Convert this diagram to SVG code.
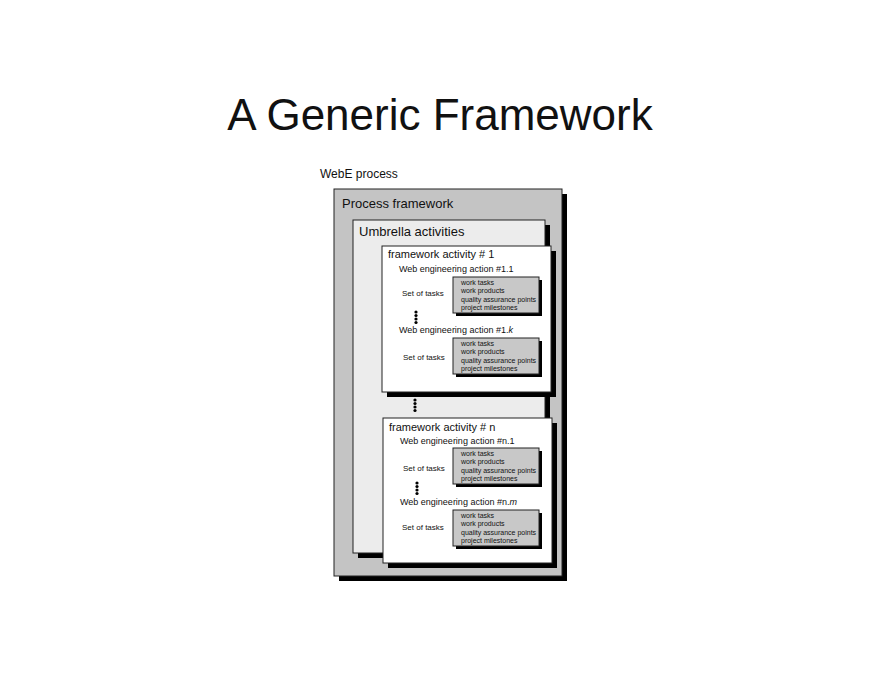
<svg xmlns="http://www.w3.org/2000/svg" width="880" height="680" viewBox="0 0 880 680">
<style>
text{font-family:"Liberation Sans",Arial,sans-serif;fill:#111}
.box{stroke:#222;stroke-width:1}
.sh{fill:#000}
.t{font-size:7px}
.a{font-size:9px}
.s{font-size:8px}
.h{font-size:11px}
</style>
<defs>
<g id="dots"><circle cx="0" cy="0" r="1.6" fill="#000"/><circle cx="0" cy="3.5" r="1.6" fill="#000"/><circle cx="0" cy="7" r="1.6" fill="#000"/><circle cx="0" cy="10.5" r="1.6" fill="#000"/></g>
<g id="tasks">
<rect x="3" y="3" width="86" height="36" class="sh"/>
<rect x="0" y="0" width="86" height="36" fill="#c8c8c8" class="box"/>
<text x="8" y="7.5" class="t">work tasks</text>
<text x="8" y="16" class="t">work products</text>
<text x="8" y="24.5" class="t">quality assurance points</text>
<text x="8" y="33" class="t">project milestones</text>
</g>
</defs>
<rect width="880" height="680" fill="#fff"/>
<text x="440" y="130" text-anchor="middle" style="font-size:44px;font-family:'Liberation Sans',Arial,sans-serif">A Generic Framework</text>
<text x="320" y="178" style="font-size:12px">WebE process</text>
<g id="process">
<rect x="339" y="194" width="228" height="387" class="sh"/>
<rect x="334" y="189" width="228" height="387" fill="#c4c4c4" class="box"/>
<text x="342" y="208" style="font-size:13px">Process framework</text>
</g>
<g id="umbrella">
<rect x="358" y="225" width="192" height="333" class="sh"/>
<rect x="353" y="220" width="192" height="333" fill="#ececec" class="box"/>
<text x="359" y="236" style="font-size:13px">Umbrella activities</text>
</g>
<g id="activity1">
<rect x="387" y="251" width="169" height="146" class="sh"/>
<rect x="382" y="246" width="169" height="146" fill="#fff" class="box"/>
<text x="388" y="258" class="h">framework activity # 1</text>
<text x="399" y="272" class="a">Web engineering action #1.1</text>
<text x="402" y="296" class="s">Set of tasks</text>
<use href="#tasks" x="453" y="277"/>
<use href="#dots" x="416" y="312"/>
<text x="399" y="333" class="a">Web engineering action #1.<tspan font-style="italic">k</tspan></text>
<text x="403" y="360" class="s">Set of tasks</text>
<use href="#tasks" x="453" y="338"/>
</g>
<g id="connectors">
<use href="#dots" x="415" y="400"/>
</g>
<g id="activityn">
<rect x="388" y="423" width="169" height="145" class="sh"/>
<rect x="383" y="418" width="169" height="145" fill="#fff" class="box"/>
<text x="389" y="431" class="h">framework activity # n</text>
<text x="400" y="444" class="a">Web engineering action #n.1</text>
<text x="403" y="471" class="s">Set of tasks</text>
<use href="#tasks" x="453" y="448"/>
<use href="#dots" x="417" y="483"/>
<text x="400" y="505" class="a">Web engineering action #n.<tspan font-style="italic">m</tspan></text>
<text x="402" y="530" class="s">Set of tasks</text>
<use href="#tasks" x="453" y="510"/>
</g>
</svg>
